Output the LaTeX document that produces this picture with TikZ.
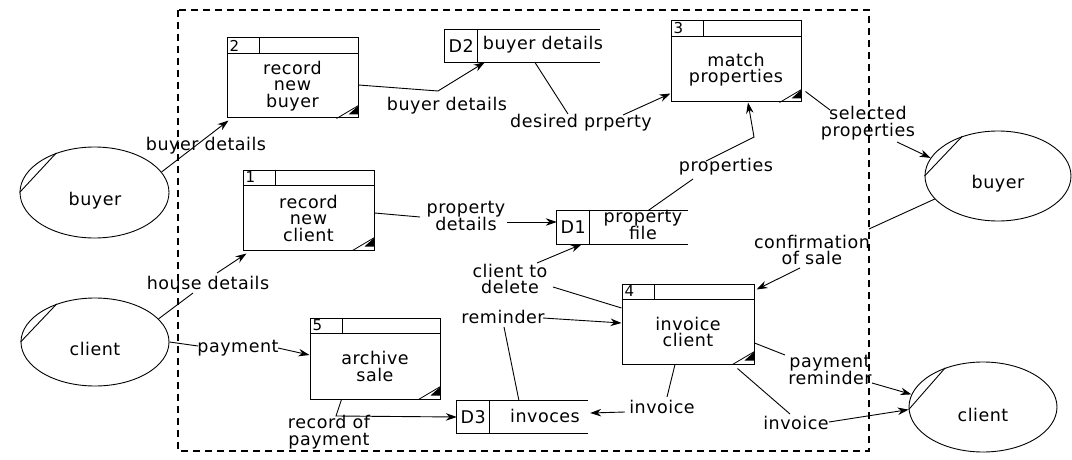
\documentclass[tikz,border=0pt]{standalone}
\usepackage{fontspec}
\setmainfont{DejaVu Sans}[LetterSpace=3]
\usetikzlibrary{shapes.geometric,arrows.meta,calc}
\tikzset{
  lbl/.style={inner sep=0pt, align=center, font=\fontsize{17.5}{16.5}\selectfont},
  ptext/.style={lbl},
  numtext/.style={inner sep=0pt, font=\fontsize{15}{15}\selectfont},
  proc/.style={draw, line width=1pt, rectangle, inner sep=0pt},
  boxline/.style={line width=1pt},
  store/.style={rectangle, inner sep=0pt},
  ext/.style={draw, ellipse, line width=0.9pt, inner sep=0pt},
  flow/.style={line width=0.9pt},
  arr/.style={line width=0.9pt, -{Stealth[length=11pt,width=7.5pt]}},
  boundary/.style={line width=1.1pt, dash pattern=on 7pt off 5pt}
}
\newcommand\procbox[7]{%
  \node[proc, minimum width=#4, minimum height=#5] (#1) at (#2,#3) {};
  \draw[boxline] ([yshift=-16pt]#1.north west) -- ([yshift=-16pt]#1.north east);
  \draw[boxline] ([xshift=33pt]#1.north west) -- ([xshift=33pt,yshift=-16pt]#1.north west);
  \node[numtext, anchor=west] (#1n) at ([xshift=3pt,yshift=-8pt]#1.north west) {#6};
  \node[ptext] (#1t) at ([yshift=-8pt]#1.center) {#7};
  \draw[line width=0.8pt] ([xshift=-22pt]#1.south east) -- ([yshift=13pt]#1.south east);
  \fill ([xshift=-10pt,yshift=4pt]#1.south east) -- ([yshift=13pt]#1.south east) -- ([yshift=4pt]#1.south east) -- cycle;
}
\newcommand\datastore[6]{%
  \node[store, minimum width=#4, minimum height=#5] (#1) at (#2,#3) {};
  \draw[boxline] (#1.north east) -- (#1.north west) -- (#1.south west) -- (#1.south east);
  \draw[boxline] ([xshift=33pt]#1.north west) -- ([xshift=33pt]#1.south west);
  \node[lbl] (#1n) at ($([xshift=16.5pt]#1.west)$) {#6};
}
\begin{document}
\begin{tikzpicture}[x=1pt,y=-1pt]
\useasboundingbox (0,0) rectangle (1072,460);
% boundary
\draw[boundary] (178,10) rectangle (869,451);

% processes
\procbox{p2}{292.5}{78}{131pt}{80pt}{2}{record\\new\\buyer}
\procbox{p1}{308.5}{210}{131pt}{80pt}{1}{record\\new\\client}
\procbox{p3}{736}{61.5}{130pt}{81pt}{3}{match\\properties}
\procbox{p4}{688}{324}{132pt}{80pt}{4}{invoice\\client}
\procbox{p5}{375}{358.5}{130pt}{81pt}{5}{archive\\sale}

% data stores
\datastore{d2}{522.5}{46}{155pt}{32pt}{D2}
\node[lbl] (d2t) at (543,45) {buyer details};
\datastore{d1}{622.5}{227.5}{131pt}{33pt}{D1}
\node[lbl] (d1t) at (643,225) {property\\file};
\datastore{d3}{522.5}{417}{131pt}{32pt}{D3}
\node[lbl] (d3t) at (545,416) {invoces};

% externals
\node[ext, minimum width=149pt, minimum height=91pt] (bL) at (94.5,192.5) {};
\node[lbl] (bLt) at (95,201) {buyer};
\draw[flow] (bL.180) -- (bL.134);
\node[ext, minimum width=148pt, minimum height=88pt] (cL) at (95,342) {};
\node[lbl] (cLt) at (95,349) {client};
\draw[flow] (cL.180) -- (cL.135);
\node[ext, minimum width=146pt, minimum height=90pt] (bR) at (998,176) {};
\node[lbl] (bRt) at (998,184) {buyer};
\draw[flow] (bR.180) -- (bR.132);
\node[ext, minimum width=148pt, minimum height=90pt] (cR) at (983,407) {};
\node[lbl] (cRt) at (983,415) {client};
\draw[flow] (cR.182) -- (cR.134);

% labels
\node[lbl] (l1) at (206,146) {buyer details};
\node[lbl] (l2) at (447,106) {buyer details};
\node[lbl] (l3) at (581,123) {desired prperty};
\node[lbl] (l4) at (726,167) {properties};
\node[lbl] (l5) at (868,123) {selected\\properties};
\node[lbl] (l6) at (812,250) {confirmation\\of sale};
\node[lbl] (l7) at (466,216) {property\\details};
\node[lbl] (l8) at (208,283) {house details};
\node[lbl] (l9) at (238,348) {payment};
\node[lbl] (l10) at (329,432) {record of\\payment};
\node[lbl] (l11) at (510,279) {client to\\delete};
\node[lbl] (l12) at (503,317) {reminder};
\node[lbl] (l13) at (662,407) {invoice};
\node[lbl] (l14) at (830,370) {payment\\reminder};
\node[lbl] (l15) at (796,423) {invoice};

% connectors
\draw[arr] (bL.17) -- ([xshift=2pt,yshift=-2pt]p2.south west);
\draw[arr] ([yshift=-7pt]p2.east) -- (438,91) -- ([xshift=40pt]d2.south west);
\draw[flow] ([xshift=90pt]d2.south west) -- (568,114);
\draw[arr] (623,115) -- ([yshift=9pt]p3.south west);
\draw[flow] ([xshift=91pt]d1.north west) -- (693,179);
\draw[arr] (706,161) -- (754,137) -- ([xshift=12pt]p3.south);
\draw[flow] ([xshift=4pt,yshift=11pt]p3.south east) -- (830,110);
\draw[arr] (897,142) -- (bR.165);
\draw[flow] (bR.200) -- (869,229);
\draw[arr] (800,268) -- ([xshift=2pt,yshift=-6pt]p4.north east);
\draw[flow] ([yshift=-3pt]p1.east) -- (420,217);
\draw[arr] (507,222) -- ([yshift=5.5pt]d1.west);
\draw[flow] (cL.20) -- (193,293);
\draw[arr] (217,273) -- ([xshift=4pt,yshift=-3pt]p1.south west);
\draw[flow] (cL.east) -- (198,346);
\draw[arr] (278,348) -- ([yshift=3.5pt]p5.west);
\draw[arr] ([xshift=32pt]p5.south west) -- (336,416) -- (d3.west);
\draw[flow] ([yshift=16pt]p4.west) -- (553,287);
\draw[arr] (537,263) -- ([xshift=25pt]d1.south west);
\draw[flow] ([xshift=-3.5pt]d3.north) -- (504,327);
\draw[arr] (543,318) -- ([yshift=1pt]p4.west);
\draw[flow] ([xshift=-13pt]p4.south) -- (667,397);
\draw[arr] (625,412) -- ([xshift=2pt,yshift=4pt]d3.east);
\draw[flow] ([yshift=-19pt]p4.east) -- (785,355);
\draw[arr] (872,383) -- (cR.170);
\draw[flow] ([xshift=-17pt,yshift=-4pt]p4.south east) -- (790,414);
\draw[arr] (829,422) -- (cR.182);
\end{tikzpicture}
\end{document}
